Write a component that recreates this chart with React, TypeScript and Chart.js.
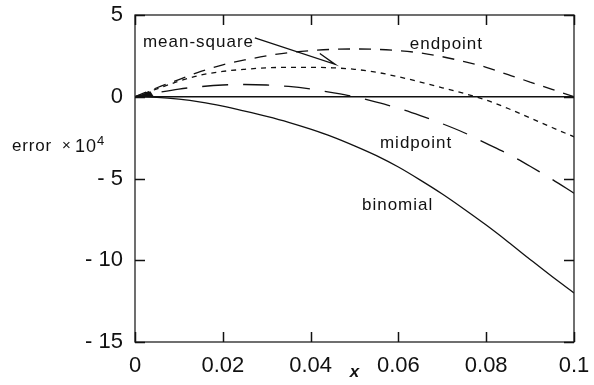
import { useEffect, useRef } from "react";
import { Chart, registerables } from "chart.js";

Chart.register(...registerables);

// x values (0 .. 0.1)
const xValues = [
  0, 0.005, 0.01, 0.015, 0.02, 0.025, 0.03, 0.035, 0.04, 0.045, 0.05,
  0.055, 0.06, 0.065, 0.07, 0.075, 0.08, 0.085, 0.09, 0.095, 0.1,
];
// error × 10^4
const endpoint = [
  0, 0.55, 1.05, 1.55, 1.95, 2.25, 2.5, 2.7, 2.82, 2.9, 2.92,
  2.9, 2.82, 2.68, 2.45, 2.15, 1.8, 1.35, 0.9, 0.45, 0,
];
const meanSquare = [
  0, 0.48, 0.95, 1.33, 1.55, 1.68, 1.77, 1.8, 1.8, 1.77, 1.68,
  1.5, 1.22, 0.9, 0.55, 0.2, -0.2, -0.72, -1.3, -1.88, -2.45,
];
const midpoint = [
  0, 0.25, 0.47, 0.62, 0.72, 0.75, 0.72, 0.63, 0.47, 0.25, 0,
  -0.33, -0.7, -1.15, -1.65, -2.2, -2.85, -3.5, -4.25, -5.05, -5.9,
];
const binomial = [
  0, -0.04, -0.15, -0.33, -0.58, -0.88, -1.2, -1.56, -1.98, -2.45, -3.0,
  -3.6, -4.3, -5.1, -5.95, -6.88, -7.85, -8.88, -9.95, -11.0, -12.0,
];

const xTickValues = [0, 0.02, 0.04, 0.06, 0.08, 0.1];
const yTickValues = [5, 0, -5, -10, -15];
const curveLabels = ["mean-square", "endpoint", "midpoint", "binomial"];
const yTitle = ["error", "×", "10", "4"];
const xTitle = "x";

const FONT = "'Liberation Sans', Arial, Helvetica, sans-serif";
const INK = "#111";

const pts = (ys: number[]) => xValues.map((x, i) => ({ x, y: ys[i] }));

const decorPlugin = {
  id: "decor",
  afterDatasetsDraw(chart: any) {
    const { ctx, chartArea, scales } = chart;
    const xs = scales.x;
    const ys = scales.y;
    const { left, right, top, bottom } = chartArea;
    ctx.save();
    ctx.setLineDash([]);
    // zero line
    ctx.strokeStyle = INK;
    ctx.lineWidth = 1.6;
    ctx.beginPath();
    const y0 = ys.getPixelForValue(0);
    ctx.moveTo(left, y0);
    ctx.lineTo(right, y0);
    ctx.stroke();
    // frame
    ctx.lineWidth = 1.3;
    ctx.strokeStyle = "#222";
    ctx.strokeRect(left, top, right - left, bottom - top);
    // inward ticks
    const tl = 10;
    ctx.lineWidth = 1.5;
    ctx.strokeStyle = INK;
    ctx.beginPath();
    xTickValues.forEach((v) => {
      const px = Math.round(xs.getPixelForValue(v)) + 0.5;
      ctx.moveTo(px, bottom);
      ctx.lineTo(px, bottom - tl);
      ctx.moveTo(px, top);
      ctx.lineTo(px, top + tl);
    });
    yTickValues.forEach((v) => {
      const py = Math.round(ys.getPixelForValue(v)) + 0.5;
      ctx.moveTo(left, py);
      ctx.lineTo(left + tl, py);
      ctx.moveTo(right, py);
      ctx.lineTo(right - tl, py);
    });
    ctx.stroke();

    // arrow from "mean-square" label
    const P = (x: number, y: number) => [xs.getPixelForValue(x), ys.getPixelForValue(y)];
    ctx.strokeStyle = INK;
    ctx.lineWidth = 1.3;
    const tail = P(0.0273, 3.6);
    const tip = P(0.0456, 1.98);
    const wing = P(0.0421, 2.65);
    ctx.beginPath();
    ctx.moveTo(tail[0], tail[1]);
    ctx.lineTo(tip[0], tip[1]);
    ctx.lineTo(wing[0], wing[1]);
    ctx.stroke();

    // small wedge at origin
    const a = P(0.0003, 0.03);
    const b = P(0.0035, 0.33);
    const c = P(0.0042, 0.04);
    ctx.fillStyle = INK;
    ctx.beginPath();
    ctx.moveTo(a[0], a[1]);
    ctx.lineTo(b[0], b[1]);
    ctx.lineTo(c[0], c[1]);
    ctx.closePath();
    ctx.fill();

    // curve labels
    ctx.fillStyle = INK;
    ctx.font = `17px ${FONT}`;
    ctx.textBaseline = "alphabetic";
    ctx.textAlign = "left";
    try { (ctx as any).letterSpacing = "1px"; } catch (e) {}
    const labelPos = [
      [0.0018, 3.06],
      [0.0626, 2.9],
      [0.0558, -3.16],
      [0.0517, -6.93],
    ];
    curveLabels.forEach((t, i) => {
      const p = P(labelPos[i][0], labelPos[i][1]);
      ctx.fillText(t, p[0], p[1]);
    });

    // y axis title
    ctx.font = `17px ${FONT}`;
    try { (ctx as any).letterSpacing = "0.8px"; } catch (e) {}
    ctx.fillText(yTitle[0], 12, 151);
    try { (ctx as any).letterSpacing = "0px"; } catch (e) {}
    ctx.font = `15px ${FONT}`;
    ctx.fillText(yTitle[1], 62, 150);
    ctx.font = `18px ${FONT}`;
    try { (ctx as any).letterSpacing = "1px"; } catch (e) {}
    ctx.fillText(yTitle[2], 75, 152);
    ctx.font = `13px ${FONT}`;
    ctx.fillText(yTitle[3], 97, 145);
    ctx.restore();
  },
};

export default function App() {
  const ref = useRef<HTMLCanvasElement | null>(null);
  useEffect(() => {
    if (!ref.current) return;
    const mk = (label: string, ys: number[], dash: number[], offset = 0) => ({
      label,
      data: pts(ys),
      borderColor: INK,
      borderWidth: 1.3,
      borderDash: dash,
      borderDashOffset: offset,
      pointRadius: 0,
      fill: false,
      cubicInterpolationMode: "monotone" as const,
    });
    const chart = new Chart(ref.current, {
      type: "line",
      data: {
        datasets: [
          mk("endpoint", endpoint, [12, 9]),
          mk("mean-square", meanSquare, [5, 5]),
          mk("midpoint", midpoint, [26, 15], 14),
          mk("binomial", binomial, []),
        ],
      },
      options: {
        animation: false,
        responsive: false,
        layout: { padding: { left: 0, right: 20, top: 15, bottom: 0 } },
        plugins: { legend: { display: false }, tooltip: { enabled: false } },
        scales: {
          x: {
            type: "linear",
            min: 0,
            max: 0.1,
            afterBuildTicks: (s: any) => {
              s.ticks = xTickValues.map((v) => ({ value: v }));
            },
            ticks: {
              font: { family: FONT, size: 22 },
              color: INK,
              padding: 11,
              maxRotation: 0,
              autoSkip: false,
              callback: (v: any) => String(Math.round(Number(v) * 100) / 100),
            },
            grid: { display: false, drawTicks: false },
            border: { display: false },
            title: {
              display: true,
              text: xTitle,
              color: INK,
              font: { family: FONT, size: 17, style: "italic", weight: "bold" },
              padding: { top: 0, bottom: 2 },
            },
            afterFit: (s: any) => {
              s.height = 43;
              s.paddingLeft = 0;
              s.paddingRight = 0;
            },
          },
          y: {
            type: "linear",
            min: -15,
            max: 5,
            afterBuildTicks: (s: any) => {
              s.ticks = yTickValues.map((v) => ({ value: v }));
            },
            ticks: {
              font: { family: FONT, size: 22 },
              color: INK,
              padding: 12,
              autoSkip: false,
              callback: (v: any) => (Number(v) < 0 ? "- " + Math.abs(Number(v)) : String(v)),
            },
            grid: { display: false, drawTicks: false },
            border: { display: false },
            afterFit: (s: any) => {
              s.width = 135;
              s.paddingTop = 0;
              s.paddingBottom = 0;
            },
          },
        },
      },
      plugins: [decorPlugin],
    });
    return () => chart.destroy();
  }, []);
  return (
    <div style={{ position: "fixed", left: 0, top: 0, width: 594, height: 385, background: "#fff" }}>
      <canvas ref={ref} width={594} height={385} style={{ display: "block" }} />
    </div>
  );
}
